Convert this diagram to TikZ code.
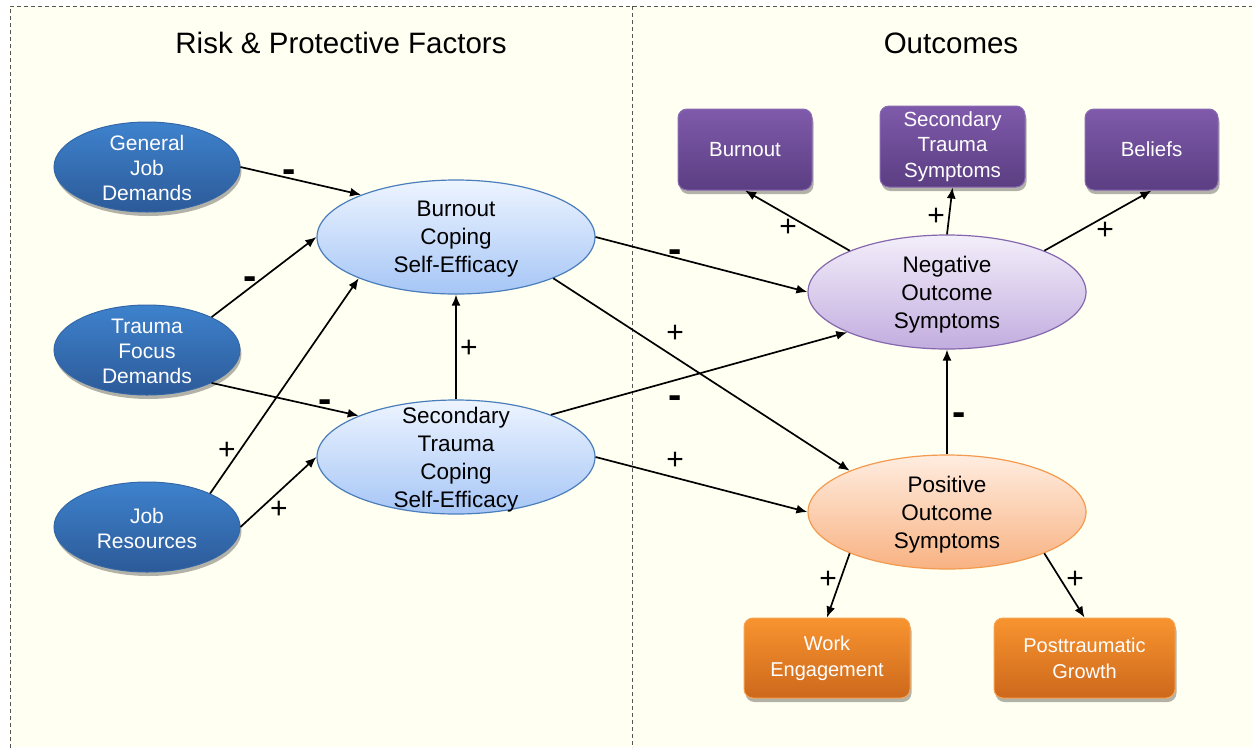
\documentclass[tikz,border=0pt]{standalone}
\usepackage{fontspec}
\setmainfont{Liberation Sans}
\usetikzlibrary{shapes.geometric,shadows,arrows.meta}
\definecolor{bg}{HTML}{FFFFF2}
\definecolor{dbA}{HTML}{3E82CD}
\definecolor{dbB}{HTML}{2C5A98}
\definecolor{dbL}{HTML}{3467A8}
\definecolor{lbA}{HTML}{EDF4FF}
\definecolor{lbB}{HTML}{A6C6F6}
\definecolor{lbL}{HTML}{4A7EBB}
\definecolor{nvA}{HTML}{F3EEFA}
\definecolor{nvB}{HTML}{C2ADDF}
\definecolor{nvL}{HTML}{8567AE}
\definecolor{pvA}{HTML}{FFEDE0}
\definecolor{pvB}{HTML}{F8B282}
\definecolor{pvL}{HTML}{F39A4E}
\definecolor{puA}{HTML}{7F5AAB}
\definecolor{puB}{HTML}{5B3E82}
\definecolor{puL}{HTML}{8A6AB4}
\definecolor{orA}{HTML}{F8942F}
\definecolor{orB}{HTML}{CD681C}
\definecolor{orL}{HTML}{F6A352}
\definecolor{frame}{HTML}{555555}
\tikzset{
  shad/.style={drop shadow={shadow xshift=1.5pt,shadow yshift=-4pt,opacity=0.3,fill=black}},
  darkell/.style={ellipse,inner sep=0,minimum width=186pt,minimum height=90pt,draw=dbL,line width=1pt,top color=dbA,bottom color=dbB,shad},
  lightell/.style={ellipse,inner sep=0,minimum width=278pt,minimum height=114pt,draw=lbL,line width=1.2pt,top color=lbA,bottom color=lbB},
  negell/.style={ellipse,inner sep=0,minimum width=278pt,minimum height=114pt,draw=nvL,line width=1.2pt,top color=nvA,bottom color=nvB},
  posell/.style={ellipse,inner sep=0,minimum width=278pt,minimum height=114pt,draw=pvL,line width=1.2pt,top color=pvA,bottom color=pvB},
  wtxt/.style={text=white,align=center,font=\fontsize{21}{25}\selectfont,yshift=-1pt},
  btxt/.style={text=black,align=center,font=\fontsize{22.5}{28}\selectfont,yshift=-2.5pt},
  purbox/.style={rectangle,rounded corners=9pt,draw=puL,line width=1pt,top color=puA,bottom color=puB,shad,text=white,align=center,font=\fontsize{20.5}{25.5}\selectfont,inner sep=0},
  orbox/.style={rectangle,rounded corners=9pt,draw=orL,line width=1pt,top color=orA,bottom color=orB,shad,text=white,align=center,font=\fontsize{20}{26}\selectfont,inner sep=0},
  arr/.style={-{Latex[length=11pt,width=9pt]},line width=1.7pt,black},
  sgn/.style={font=\fontsize{30}{30}\selectfont,inner sep=0},
  msgn/.style={font=\bfseries\fontsize{40}{40}\selectfont,inner sep=0,yshift=-6pt},
  ttl/.style={font=\fontsize{29.5}{34}\selectfont,inner sep=0},
  dsh/.style={draw=frame,line width=1pt,dash pattern=on 4pt off 3pt}
}
\begin{document}
\begin{tikzpicture}[x=1pt,y=-1pt]
\useasboundingbox (0,0) rectangle (1252,748);
\fill[white] (0,0) rectangle (1252,748);
\fill[bg] (10,6) rectangle (1252,747);
\draw[dsh] (10,748) -- (10,6) -- (1252,6);
\draw[dsh] (632,6) -- (632,748);

\node[ttl] (t1) at (341,43) {Risk \& Protective Factors};
\node[ttl] (t2) at (951,43) {Outcomes};

\node[darkell,label={[wtxt]center:{General\\Job\\Demands}}] (gjd) at (147,167) {};
\node[darkell,label={[wtxt]center:{Trauma\\Focus\\Demands}}] (tfd) at (147,350) {};
\node[darkell,label={[wtxt]center:{Job\\Resources}}] (jr) at (147,527) {};

\node[lightell,label={[btxt]center:{Burnout\\Coping\\Self-Efficacy}}] (bcse) at (456,237) {};
\node[lightell,label={[btxt]center:{Secondary\\Trauma\\Coping\\Self-Efficacy}}] (stcse) at (456,457) {};

\node[negell,label={[btxt]center:{Negative\\Outcome\\Symptoms}}] (nos) at (947,292) {};
\node[posell,label={[btxt]center:{Positive\\Outcome\\Symptoms}}] (pos) at (947,512) {};

\node[purbox,minimum width=134pt,minimum height=81pt] (burn) at (745,149.5) {Burnout};
\node[purbox,minimum width=145pt,minimum height=81pt] (sts) at (952.5,146.5) {Secondary\\Trauma\\Symptoms};
\node[purbox,minimum width=133pt,minimum height=81pt] (bel) at (1151.5,149.5) {Beliefs};
\node[orbox,minimum width=166pt,minimum height=80pt] (we) at (827,658) {Work\\Engagement};
\node[orbox,minimum width=181pt,minimum height=80pt] (pg) at (1084.5,658) {Posttraumatic\\Growth};

\draw[arr] (gjd.east) -- (bcse.156);
\draw[arr] (tfd.27) -- (bcse.west);
\draw[arr] (tfd.-27) -- (stcse.157);
\draw[arr] (jr.28) -- (bcse.203);
\draw[arr] (jr.east) -- (stcse.west);
\draw[arr] (stcse.north) -- (bcse.south);
\draw[arr] (bcse.east) -- (nos.west);
\draw[arr] (bcse.-23) -- (pos.157);
\draw[arr] (stcse.24) -- (nos.202);
\draw[arr] (stcse.east) -- (pos.west);
\draw[arr] (pos.north) -- (nos.south);
\draw[arr] (nos.157) -- (burn.south);
\draw[arr] (nos.north) -- (sts.south);
\draw[arr] (nos.23) -- (bel.south);
\draw[arr] (pos.203) -- (we.north);
\draw[arr] (pos.-23) -- (pg.north);

\node[msgn] (s1) at (289,170) {-};
\node[msgn] (s2) at (250,277) {-};
\node[msgn] (s3) at (325,400) {-};
\node[sgn] (s4) at (227,451) {+};
\node[sgn] (s5) at (279,510) {+};
\node[sgn] (s6) at (469,349) {+};
\node[msgn] (s7) at (675,250) {-};
\node[sgn] (s8) at (675,334) {+};
\node[msgn] (s9) at (675,396) {-};
\node[sgn] (s10) at (675,461) {+};
\node[msgn] (s11) at (959,413) {-};
\node[sgn] (s12) at (788,228) {+};
\node[sgn] (s13) at (936,217) {+};
\node[sgn] (s14) at (1105,231) {+};
\node[sgn] (s15) at (828,580) {+};
\node[sgn] (s16) at (1075,580) {+};
\end{tikzpicture}
\end{document}
